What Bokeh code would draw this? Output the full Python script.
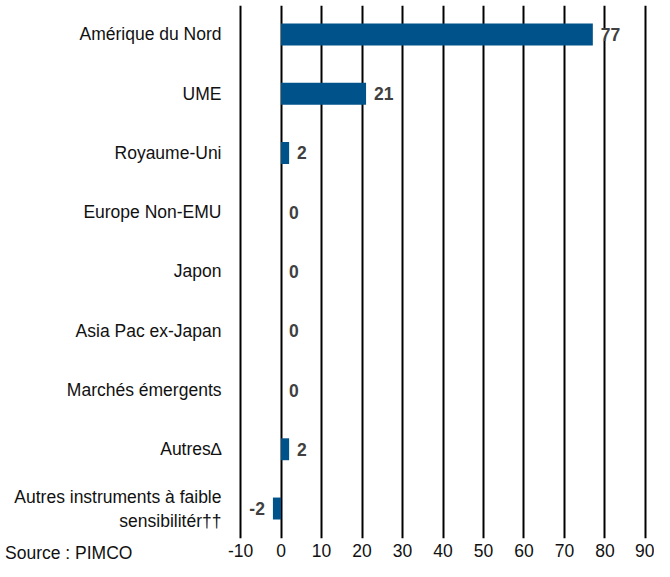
from bokeh.plotting import figure
from bokeh.layouts import column
from bokeh.models import Range1d, FixedTicker, ColumnDataSource, LabelSet, Div
from bokeh.core.properties import value
from bokeh.embed import file_html
from bokeh.resources import INLINE

# ---- data ----
categories = [
    "Amérique du Nord",
    "UME",
    "Royaume-Uni",
    "Europe Non-EMU",
    "Japon",
    "Asia Pac ex-Japan",
    "Marchés émergents",
    "Autres∆",
    "Autres instruments à faible\nsensibilitér††",
]
values = [77, 21, 2, 0, 0, 0, 0, 2, -2]
x_ticks = [-10, 0, 10, 20, 30, 40, 50, 60, 70, 80, 90]
x_tick_labels = ["-10", "0", "10", "20", "30", "40", "50", "60", "70", "80", "90"]
source_note = "Source : PIMCO"

# ---- styling ----
FONT = "Liberation Sans"
FS = "17.5px"
BAR_COLOR = "#00538a"
VAL_COLOR = "#404040"
TXT_COLOR = "#111111"

W, H = 654, 563
BL, BR, BT, BB = 238, 7, 5, 25
X0, X1 = -10.5, 90.5
Y_BOTTOM, Y_TOP = 8.506, -0.489

idx = list(range(len(categories)))

p = figure(width=W, height=H, output_backend="svg", toolbar_location=None,
           x_range=Range1d(X0, X1), y_range=Range1d(Y_BOTTOM, Y_TOP),
           min_border_left=BL, min_border_right=BR,
           min_border_top=BT, min_border_bottom=BB)
p.outline_line_color = None
p.background_fill_color = "white"
p.border_fill_color = "white"

# grid
p.xgrid.ticker = FixedTicker(ticks=x_ticks)
p.xgrid.grid_line_color = "black"
p.xgrid.grid_line_width = 2
p.ygrid.grid_line_color = None

# bars
src = ColumnDataSource(dict(y=idx, v=values, cat=categories))
p.hbar(y="y", left=0, right="v", height=0.37, source=src,
       fill_color=BAR_COLOR, line_color=None)

# value labels
pos = [i for i, v in enumerate(values) if v >= 0]
neg = [i for i, v in enumerate(values) if v < 0]
src_pos = ColumnDataSource(dict(x=[values[i] for i in pos], y=pos,
                                t=[str(values[i]) for i in pos]))
src_neg = ColumnDataSource(dict(x=[values[i] for i in neg], y=neg,
                                t=[str(values[i]) for i in neg]))
for s, off, al in ((src_pos, 8, "left"), (src_neg, -8, "right")):
    ls = LabelSet(x="x", y="y", text="t", source=s, x_offset=off,
                  text_align=al, text_baseline="middle",
                  text_font=value(FONT), text_font_size=value(FS),
                  text_font_style="bold", text_color=VAL_COLOR,
                  background_fill_color="white")
    p.add_layout(ls)

# y axis (categories)
yax = p.yaxis[0]
yax.ticker = FixedTicker(ticks=idx)
yax.major_label_overrides = {i: c for i, c in zip(idx, categories)}
yax.axis_line_color = None
yax.major_tick_line_color = None
yax.minor_tick_line_color = None
yax.major_tick_out = 0
yax.major_tick_in = 0
yax.major_label_standoff = 17
yax.major_label_text_font = FONT
yax.major_label_text_font_size = FS
yax.major_label_text_color = TXT_COLOR

# x axis
xax = p.xaxis[0]
xax.ticker = FixedTicker(ticks=x_ticks)
xax.major_label_overrides = {t: l for t, l in zip(x_ticks, x_tick_labels)}
xax.axis_line_color = None
xax.major_tick_line_color = None
xax.minor_tick_line_color = None
xax.major_tick_out = 0
xax.major_tick_in = 0
xax.major_label_standoff = 5
xax.major_label_text_font = FONT
xax.major_label_text_font_size = FS
xax.major_label_text_color = TXT_COLOR

# source note, pulled up onto the tick-label row
note = Div(text=source_note, width=200, height=16,
           styles={"margin-top": "-18px", "font-family": FONT,
                   "font-size": FS, "color": TXT_COLOR,
                   "line-height": "16px", "white-space": "nowrap"})

layout = column(p, note, spacing=0)
open("out.html", "w").write(file_html(layout, INLINE))
